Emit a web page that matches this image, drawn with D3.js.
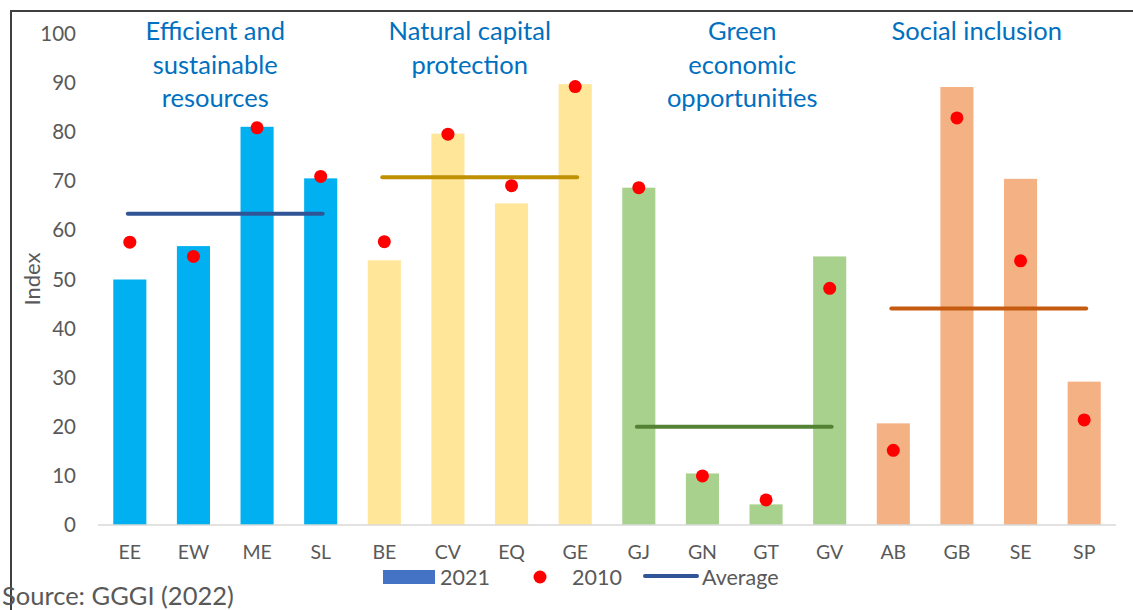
<!DOCTYPE html>
<html>
<head>
<meta charset="utf-8">
<script src="https://cdn.jsdelivr.net/npm/d3@7"></script>
<style>
  html, body { margin: 0; padding: 0; background: #fff; }
  svg { display: block; font-family: Lato, "Open Sans", sans-serif; }
</style>
</head>
<body>
<svg id="chart" width="1133" height="610"></svg>
<script>
// Index codes, grouped by pillar
const categories = ["EE","EW","ME","SL","BE","CV","EQ","GE","GJ","GN","GT","GV","AB","GB","SE","SP"];
const values2021 = [50.0, 56.8, 81.1, 70.6, 53.9, 79.7, 65.5, 89.8, 68.7, 10.5, 4.2, 54.7, 20.7, 89.2, 70.5, 29.2];
const values2010 = [57.6, 54.7, 80.9, 71.0, 57.7, 79.6, 69.1, 89.3, 68.7, 10.0, 5.1, 48.2, 15.2, 82.9, 53.8, 21.4];
const groupNames = ["Efficient and\nsustainable\nresources", "Natural capital\nprotection", "Green\neconomic\nopportunities", "Social inclusion"];
const groupAverages = [63.4, 70.8, 20.0, 44.1];
const yTicks = [0, 10, 20, 30, 40, 50, 60, 70, 80, 90, 100];

const barColors = ["#00B0F0", "#FFE699", "#A9D18E", "#F4B183"];
const avgColors = ["#2F5597", "#BF9000", "#548235", "#C55A11"];
// horizontal nudge of each pillar title from its group centre
const titleShift = [-10, -10, 8, -12];

const svg = d3.select("#chart");
const W = 1133, H = 610;
const m = { left: 98, right: 1116, top: 34, bottom: 525 };

// chart frame
svg.append("rect").attr("x", 11).attr("y", 11).attr("width", W + 20).attr("height", H + 20)
  .attr("fill", "none").attr("stroke", "#404040").attr("stroke-width", 2);

const x = d3.scaleBand().domain(categories).range([m.left, m.right]).paddingInner(0.48).paddingOuter(0.24);
const y = d3.scaleLinear().domain([0, 100]).range([m.bottom, m.top]);

const groupOf = i => Math.floor(i / 4);

// y axis labels
const yAxis = svg.append("g").attr("transform", `translate(${m.left - 22},0)`)
  .call(d3.axisLeft(y).tickValues(yTicks).tickSize(0).tickPadding(0));
yAxis.select(".domain").remove();
yAxis.selectAll("text").attr("fill", "#595959").style("font-size", "20.5px").style("font-family", "Lato, sans-serif");

svg.append("text").attr("transform", `translate(40,279) rotate(-90)`)
  .attr("text-anchor", "middle").attr("fill", "#595959").style("font-size", "22px").text("Index");

// 2021 bars
svg.append("g").selectAll("rect").data(categories).join("rect")
  .attr("x", d => x(d)).attr("width", x.bandwidth())
  .attr("y", (d, i) => y(values2021[i]))
  .attr("height", (d, i) => y(0) - y(values2021[i]))
  .attr("fill", (d, i) => barColors[groupOf(i)]);

// baseline
svg.append("line").attr("x1", m.left).attr("x2", m.right).attr("y1", y(0)).attr("y2", y(0))
  .attr("stroke", "#D9D9D9").attr("stroke-width", 1.5);

// x labels
const xAxis = svg.append("g").attr("transform", `translate(0,${y(0)})`)
  .call(d3.axisBottom(x).tickSize(0).tickPadding(20));
xAxis.select(".domain").remove();
xAxis.selectAll("text").attr("fill", "#595959").style("font-size", "19.5px").style("font-family", "Lato, sans-serif");

// pillar averages
svg.append("g").selectAll("line").data(groupAverages).join("line")
  .attr("x1", (d, g) => x(categories[g * 4]) + x.bandwidth() / 2 - 2)
  .attr("x2", (d, g) => x(categories[g * 4 + 3]) + x.bandwidth() / 2 + 2)
  .attr("y1", d => y(d)).attr("y2", d => y(d))
  .attr("stroke", (d, g) => avgColors[g]).attr("stroke-width", 4).attr("stroke-linecap", "round");

// 2010 markers
svg.append("g").selectAll("circle").data(categories).join("circle")
  .attr("cx", d => x(d) + x.bandwidth() / 2)
  .attr("cy", (d, i) => y(values2010[i]))
  .attr("r", 6.5).attr("fill", "#FF0000");

// pillar titles
groupNames.forEach((name, g) => {
  const cx = (x(categories[g * 4]) + x(categories[g * 4 + 3]) + x.bandwidth()) / 2 + titleShift[g];
  const t = svg.append("text").attr("text-anchor", "middle").attr("fill", "#0070C0")
    .style("font-size", "25.5px");
  name.split("\n").forEach((line, k) => {
    t.append("tspan").attr("x", cx).attr("y", 40 + k * 33.5).text(line);
  });
});

// legend
const lg = svg.append("g").style("font-size", "21.5px").attr("fill", "#595959");
lg.append("rect").attr("x", 383).attr("y", 570).attr("width", 52).attr("height", 14).attr("fill", "#4472C4");
lg.append("text").attr("x", 440).attr("y", 585).text("2021");
lg.append("circle").attr("cx", 540).attr("cy", 577).attr("r", 6.5).attr("fill", "#FF0000");
lg.append("text").attr("x", 572).attr("y", 585).text("2010");
lg.append("line").attr("x1", 645).attr("x2", 697).attr("y1", 576).attr("y2", 576)
  .attr("stroke", "#2F5597").attr("stroke-width", 4).attr("stroke-linecap", "round");
lg.append("text").attr("x", 702).attr("y", 585).text("Average");

// source note
svg.append("text").attr("x", 2).attr("y", 605).attr("fill", "#595959").style("font-size", "25.5px")
  .text("Source: GGGI (2022)");
</script>
</body>
</html>
